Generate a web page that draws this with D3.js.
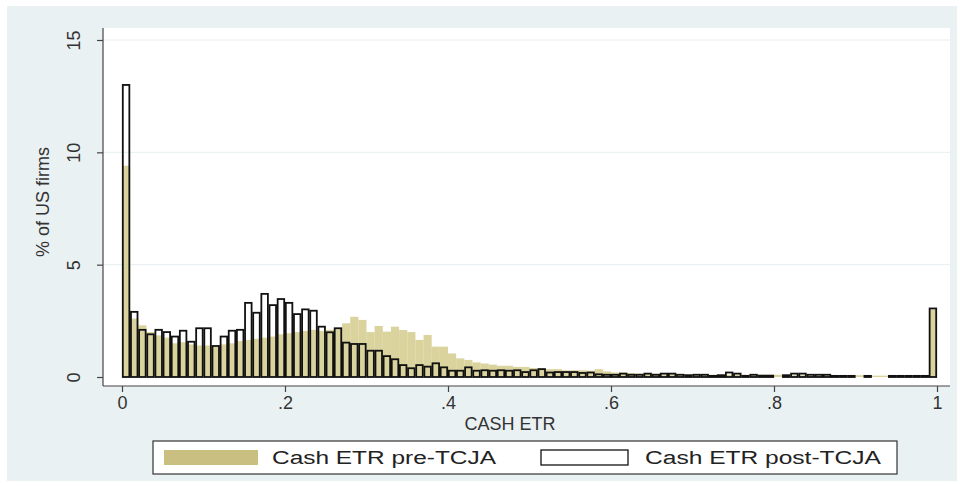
<!DOCTYPE html>
<html>
<head>
<meta charset="utf-8">
<script src="https://cdn.jsdelivr.net/npm/d3@7"></script>
<style>
  html, body { margin: 0; padding: 0; background: #ffffff; }
  svg { display: block; font-family: "Liberation Sans", Arial, sans-serif; }
</style>
</head>
<body>
<svg id="chart" width="965" height="486"></svg>
<script>
// Histogram of cash effective tax rates, bins of width 0.01 from 0 to 1 (percent of firms per bin)
const binWidth = 0.01;

const preTCJA = [
  9.4, 2.6, 2.3, 2.0, 1.85, 1.75, 1.5, 1.55, 1.45, 1.4,
  1.4, 1.35, 1.45, 1.5, 1.6, 1.65, 1.7, 1.75, 1.8, 1.9,
  1.95, 2.0, 2.05, 2.1, 2.05, 2.1, 2.15, 2.39, 2.68, 2.54,
  2.0, 2.27, 2.02, 2.24, 2.09, 2.0, 1.65, 1.87, 1.35, 1.35,
  1.05, 0.83, 0.76, 0.65, 0.6, 0.55, 0.5, 0.5, 0.45, 0.45,
  0.4, 0.4, 0.35, 0.35, 0.3, 0.3, 0.3, 0.28, 0.35, 0.25,
  0.2, 0.2, 0.18, 0.15, 0.15, 0.15, 0.12, 0.12, 0.12, 0.1,
  0.1, 0.1, 0.1, 0.1, 0.1, 0.1, 0.1, 0.1, 0.1, 0.1,
  0.1, 0.08, 0.08, 0.08, 0.08, 0.08, 0.08, 0.08, 0.08, 0.08,
  0.08, 0.06, 0.06, 0.06, 0.06, 0.06, 0.06, 0.06, 0.06, 3.0
];

const postTCJA = [
  13.0, 2.9, 2.1, 1.9, 2.1, 2.0, 1.8, 2.06, 1.57, 2.17,
  2.17, 1.38, 1.8, 2.06, 2.1, 3.3, 2.86, 3.7, 3.2, 3.47,
  3.3, 2.8, 3.01, 2.95, 2.24, 1.99, 2.17, 1.53, 1.47, 1.47,
  1.17, 1.17, 0.93, 0.79, 0.53, 0.39, 0.53, 0.46, 0.61, 0.43,
  0.28, 0.28, 0.43, 0.28, 0.3, 0.28, 0.3, 0.28, 0.3, 0.22,
  0.3, 0.35, 0.2, 0.22, 0.22, 0.22, 0.18, 0.2, 0.12, 0.1,
  0.1, 0.15, 0.1, 0.1, 0.15, 0.1, 0.15, 0.15, 0.1, 0.08,
  0.1, 0.1, 0.05, 0.08, 0.2, 0.15, 0.05, 0.1, 0.06, 0.06,
  0, 0.08, 0.15, 0.15, 0.1, 0.1, 0.1, 0.05, 0.05, 0.05,
  0, 0.05, 0, 0, 0.05, 0.05, 0.05, 0.05, 0.05, 3.05
];

const xTicks = [0, 0.2, 0.4, 0.6, 0.8, 1];
const xTickLabels = ["0", ".2", ".4", ".6", ".8", "1"];
const yTicks = [0, 5, 10, 15];
const yTickLabels = ["0", "5", "10", "15"];
const seriesNames = ["Cash ETR pre-TCJA", "Cash ETR post-TCJA"];

const svg = d3.select("#chart");

// graph region and plot region
const outer = { x: 7, y: 6, w: 950, h: 475 };
const plot = { left: 103, right: 950, top: 28, bottom: 386 };

svg.append("rect")
  .attr("x", outer.x).attr("y", outer.y)
  .attr("width", outer.w).attr("height", outer.h)
  .attr("fill", "#eaf1f3");

svg.append("rect")
  .attr("x", plot.left).attr("y", plot.top)
  .attr("width", plot.right - plot.left).attr("height", plot.bottom - plot.top)
  .attr("fill", "#ffffff");

const x = d3.scaleLinear().domain([0, 1]).range([122, 937]);
const y = d3.scaleLinear().domain([0, 15]).range([377, 40]);

// horizontal grid lines
svg.append("g")
  .selectAll("line")
  .data(yTicks.filter(v => v > 0))
  .join("line")
  .attr("x1", plot.left).attr("x2", plot.right)
  .attr("y1", d => y(d)).attr("y2", d => y(d))
  .attr("stroke", "#e6eef1").attr("stroke-width", 1);

// pre-TCJA bars (filled)
svg.append("g")
  .selectAll("rect")
  .data(preTCJA)
  .join("rect")
  .attr("x", (d, i) => x(i * binWidth))
  .attr("width", (d, i) => x((i + 1) * binWidth) - x(i * binWidth))
  .attr("y", d => y(d))
  .attr("height", d => y(0) - y(d))
  .attr("fill", "#d3cb8c")
  .attr("fill-opacity", 0.85);

// post-TCJA bars (outlined); empty bins are not drawn
svg.append("g")
  .selectAll("rect")
  .data(postTCJA)
  .join("rect")
  .attr("visibility", d => d > 0 ? null : "hidden")
  .attr("x", (d, i) => x(i * binWidth) + 0.8)
  .attr("width", (d, i) => x((i + 1) * binWidth) - x(i * binWidth) - 1.6)
  .attr("y", d => y(d))
  .attr("height", d => y(0) - y(d))
  .attr("fill", "none")
  .attr("stroke", "#111111")
  .attr("stroke-width", 1.8);

// x axis
const xAxis = svg.append("g")
  .attr("transform", `translate(0,${plot.bottom})`)
  .call(d3.axisBottom(x).tickValues(xTicks)
    .tickFormat((d, i) => xTickLabels[i]).tickSize(6).tickPadding(4));
xAxis.select(".domain").remove();
xAxis.append("line")
  .attr("x1", plot.left).attr("x2", plot.right)
  .attr("stroke", "#444444").attr("stroke-width", 1.2);
xAxis.selectAll(".tick line").attr("stroke", "#444444").attr("stroke-width", 1.2);
xAxis.selectAll(".tick text")
  .attr("fill", "#333333").attr("font-size", 18)
  .attr("font-family", "Liberation Sans, Arial, sans-serif");

// y axis
const yAxis = svg.append("g")
  .attr("transform", `translate(${plot.left},0)`)
  .call(d3.axisLeft(y).tickValues(yTicks)
    .tickFormat((d, i) => yTickLabels[i]).tickSize(6));
yAxis.select(".domain").remove();
yAxis.append("line")
  .attr("y1", plot.top).attr("y2", plot.bottom)
  .attr("stroke", "#444444").attr("stroke-width", 1.2);
yAxis.selectAll(".tick line").attr("stroke", "#444444").attr("stroke-width", 1.2);
yAxis.selectAll(".tick text")
  .attr("fill", "#333333").attr("font-size", 18)
  .attr("font-family", "Liberation Sans, Arial, sans-serif")
  .attr("x", null)
  .attr("text-anchor", "middle")
  .attr("transform", "translate(-29,0) rotate(-90)")
  .attr("dy", "0.35em");

// axis titles
svg.append("text")
  .attr("x", 510).attr("y", 430)
  .attr("text-anchor", "middle")
  .attr("font-size", 18).attr("fill", "#333333")
  .text("CASH ETR");

svg.append("text")
  .attr("transform", `translate(49,${(plot.top + plot.bottom) / 2 - 5}) rotate(-90)`)
  .attr("text-anchor", "middle")
  .attr("font-size", 18).attr("fill", "#333333")
  .text("% of US firms");

// legend
const legend = svg.append("g");
legend.append("rect")
  .attr("x", 153).attr("y", 441).attr("width", 744).attr("height", 33)
  .attr("fill", "#ffffff").attr("stroke", "#333333").attr("stroke-width", 1.2);
legend.append("rect")
  .attr("x", 164).attr("y", 450).attr("width", 94).attr("height", 15)
  .attr("fill", "#c9bf80");
legend.append("text")
  .attr("x", 272).attr("y", 464)
  .attr("font-size", 18).attr("fill", "#222222")
  .attr("textLength", 224).attr("lengthAdjust", "spacingAndGlyphs")
  .text(seriesNames[0]);
legend.append("rect")
  .attr("x", 541).attr("y", 450).attr("width", 87).attr("height", 15)
  .attr("fill", "#ffffff").attr("stroke", "#111111").attr("stroke-width", 1.3);
legend.append("text")
  .attr("x", 645).attr("y", 464)
  .attr("font-size", 18).attr("fill", "#222222")
  .attr("textLength", 236).attr("lengthAdjust", "spacingAndGlyphs")
  .text(seriesNames[1]);
</script>
</body>
</html>
